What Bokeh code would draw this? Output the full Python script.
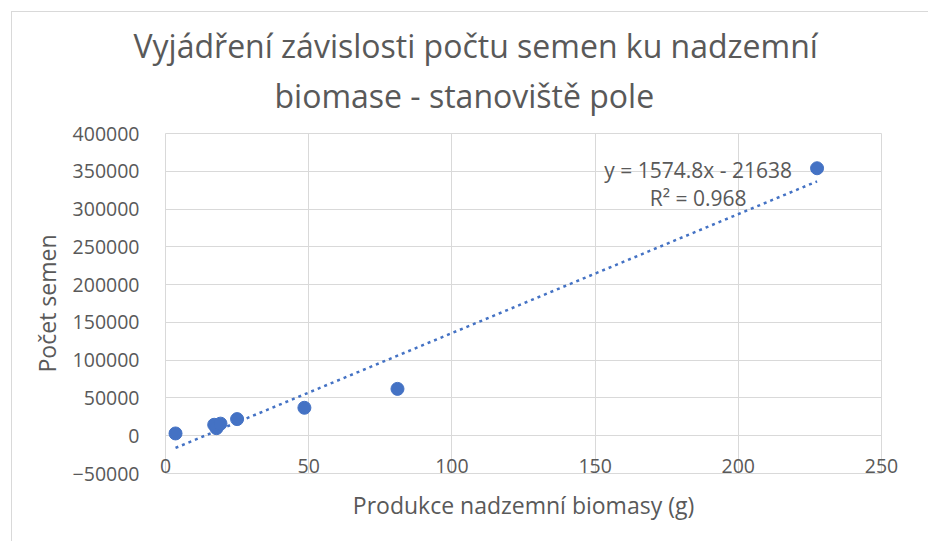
from bokeh.plotting import figure
from bokeh.models import Title, ColumnDataSource, FixedTicker, Range1d
from bokeh.core.properties import value
from bokeh.embed import file_html
from bokeh.resources import INLINE

# --- data ---
biomasa = [3.5, 17.0, 17.8, 19.2, 25.0, 48.5, 81.0, 227.5]
semena = [3000, 14500, 10000, 16000, 22000, 37000, 62000, 354000]
slope = 1574.8
intercept = -21638
r2 = 0.968
x_ticks = [0, 50, 100, 150, 200, 250]
y_ticks = [-50000, 0, 50000, 100000, 150000, 200000, 250000, 300000, 350000, 400000]
title_lines = ["Vyjádření závislosti počtu semen ku nadzemní", "biomase - stanoviště pole"]
x_label = "Produkce nadzemní biomasy (g)"
y_label = "Počet semen"

FONT = "Open Sans"
TXT = "#595959"
GRID = "#d9d9d9"
BLUE = "#4472C4"

p = figure(width=917, height=530, output_backend="svg", toolbar_location=None,
           x_range=Range1d(0, 250), y_range=Range1d(-50000, 400000),
           min_border_left=153, min_border_right=48, min_border_top=121, min_border_bottom=69)
p.styles = {"margin-left": "11px", "margin-top": "11px",
            "border-left": "1px solid #d9d9d9", "border-top": "1px solid #d9d9d9"}
p.outline_line_color = GRID
p.background_fill_color = "white"
p.border_fill_color = "white"

# line 2 (closest to the frame) first, then line 1
p.add_layout(Title(text=title_lines[1], align="left", offset=109, text_font=FONT,
                   text_font_size="32px", text_font_style="normal",
                   text_color=TXT, standoff=33), "above")
p.add_layout(Title(text=title_lines[0], align="left", offset=-32, text_font=FONT,
                   text_font_size="32px", text_font_style="normal",
                   text_color=TXT, standoff=-23), "above")

p.xaxis.ticker = FixedTicker(ticks=x_ticks)
p.yaxis.ticker = FixedTicker(ticks=y_ticks)
for ax in (p.xaxis, p.yaxis):
    ax.axis_line_color = None
    ax.major_tick_line_color = None
    ax.minor_tick_line_color = None
    ax.major_label_text_font = FONT
    ax.major_label_text_font_size = "19.5px"
    ax.major_label_text_color = TXT
    ax.axis_label_text_font = FONT
    ax.axis_label_text_font_size = "23px"
    ax.axis_label_text_font_style = "normal"
    ax.axis_label_text_color = TXT
p.yaxis.formatter.use_scientific = False
p.xaxis.axis_label = x_label
p.yaxis.axis_label = y_label
p.yaxis.major_label_standoff = 20
p.yaxis.axis_label_standoff = 7
p.xaxis.major_label_standoff = -21
p.xaxis.axis_label_standoff = 13

p.xgrid.ticker = FixedTicker(ticks=x_ticks)
p.ygrid.ticker = FixedTicker(ticks=y_ticks)
p.grid.grid_line_color = GRID
p.grid.grid_line_width = 1

# trendline
x0, x1 = min(biomasa), max(biomasa)
p.line([x0, x1], [slope * x0 + intercept, slope * x1 + intercept],
       line_color=BLUE, line_width=2.5, line_dash="3 4")

src = ColumnDataSource(dict(x=biomasa, y=semena))
p.scatter("x", "y", source=src, size=13, fill_color=BLUE, line_color=BLUE)

eq = f"y = {slope}x - {abs(intercept)}"
r2t = f"R² = {r2}"
p.text([186, 186], [352000, 315000], text=[eq, r2t], text_font=value(FONT),
       text_font_size="21px", text_color=TXT, text_align="center", text_baseline="middle")

open("out.html", "w").write(file_html(p, INLINE))
